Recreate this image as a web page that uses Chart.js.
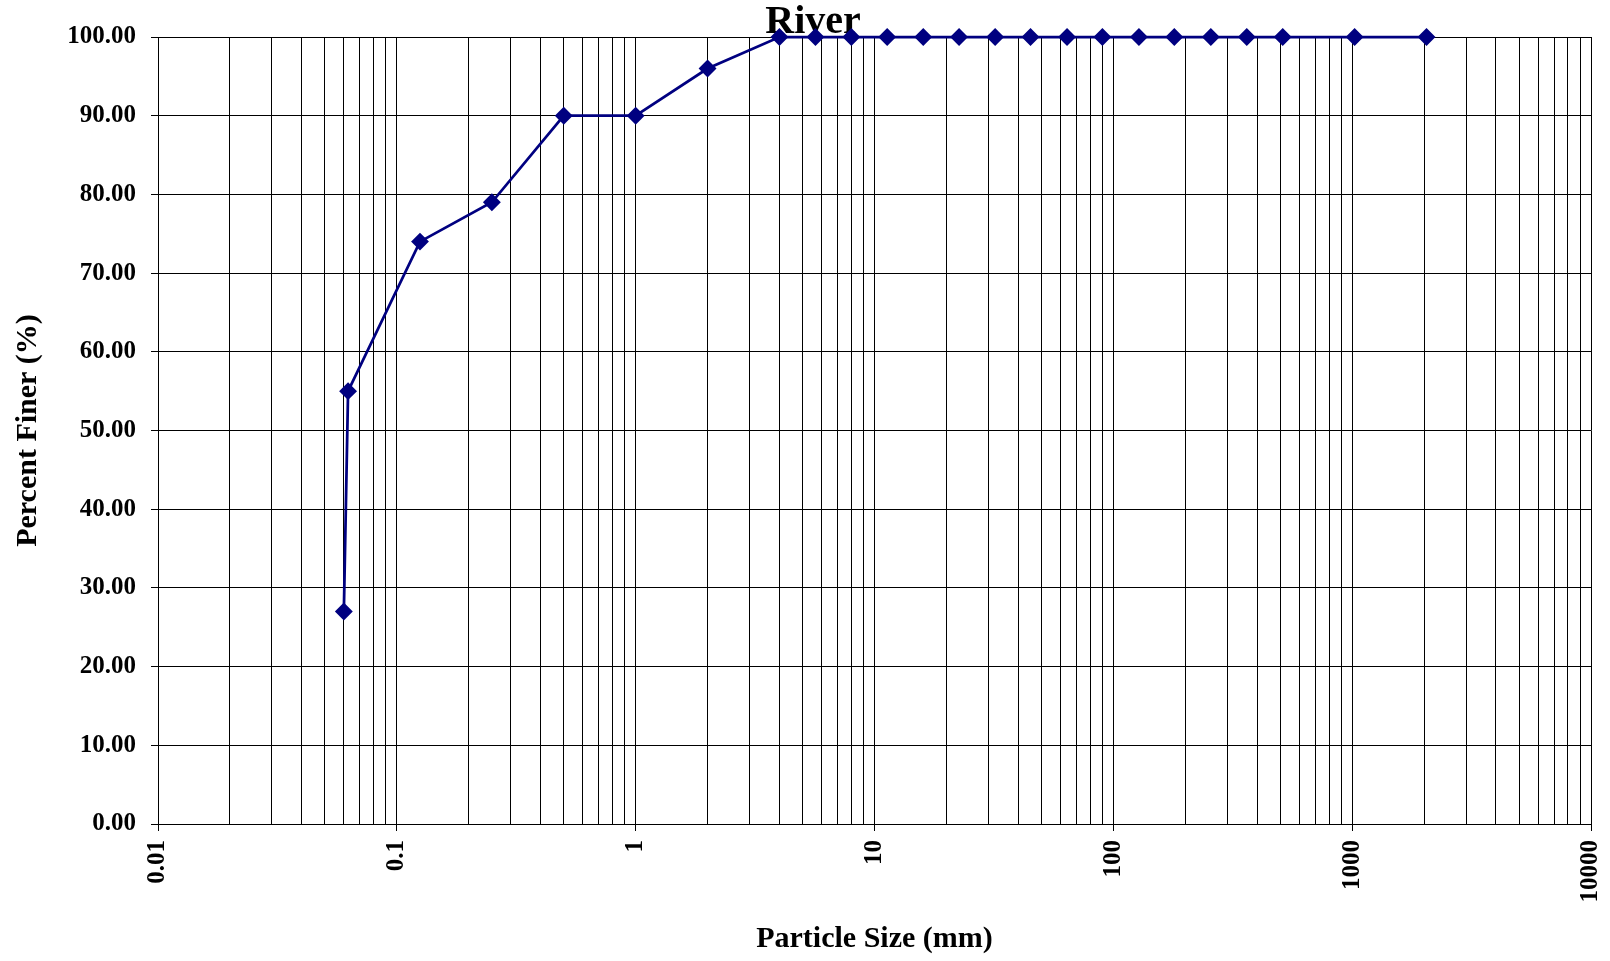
<!DOCTYPE html>
<html>
<head>
<meta charset="utf-8">
<script src="https://cdn.jsdelivr.net/npm/chart.js@4.4.1/dist/chart.umd.min.js"></script>
<style>
  html, body { margin: 0; padding: 0; background: #ffffff; }
  #wrap { width: 1610px; height: 961px; }
</style>
</head>
<body>
<div id="wrap"><canvas id="c" width="1610" height="961"></canvas></div>
<script>
// ---- data ----
const particleSizes = [0.06, 0.0625, 0.125, 0.25, 0.5, 1, 2, 4, 5.66, 8, 11.3, 16, 22.6, 32, 45, 64, 90, 128, 180, 256, 362, 512, 1024, 2048];
const percentFiner  = [27, 55, 74, 79, 90, 90, 96, 100, 100, 100, 100, 100, 100, 100, 100, 100, 100, 100, 100, 100, 100, 100, 100, 100];
const xMajorTicks = [0.01, 0.1, 1, 10, 100, 1000, 10000];
const xMinorMultipliers = [2, 3, 4, 5, 6, 7, 8, 9];
const yTickValues = [0, 10, 20, 30, 40, 50, 60, 70, 80, 90, 100];
const chartTitle = 'River';
const xAxisTitle = 'Particle Size (mm)';
const yAxisTitle = 'Percent Finer (%)';

const points = particleSizes.map((x, i) => ({ x: x, y: percentFiner[i] }));
const serif = "'Liberation Serif', 'Times New Roman', Times, serif";
const isMajor = v => xMajorTicks.some(m => Math.abs(Math.log10(v) - Math.log10(m)) < 1e-9);

new Chart(document.getElementById('c'), {
  type: 'scatter',
  data: {
    datasets: [{
      data: points,
      showLine: true,
      clip: false,
      borderColor: '#000080',
      backgroundColor: '#000080',
      borderWidth: 2.75,
      pointStyle: 'rectRot',
      pointRadius: 7,
      pointHoverRadius: 7,
      tension: 0
    }]
  },
  options: {
    responsive: false,
    animation: false,
    layout: { padding: { left: 16, right: 0, top: 0, bottom: 0 } },
    plugins: {
      legend: { display: false },
      tooltip: { enabled: false },
      title: {
        display: true,
        text: chartTitle,
        color: '#000',
        font: { family: serif, size: 40, weight: 'bold', lineHeight: 0.725 },
        padding: { top: 8, bottom: 0 }
      }
    },
    scales: {
      x: {
        type: 'logarithmic',
        min: 0.01,
        max: 10000,
        afterBuildTicks: scale => {
          const t = [];
          xMajorTicks.forEach((m, i) => {
            t.push({ value: m });
            if (i < xMajorTicks.length - 1) xMinorMultipliers.forEach(k => t.push({ value: m * k }));
          });
          scale.ticks = t;
        },
        afterFit: scale => { scale.height = 137; scale.paddingRight = 19; scale.paddingLeft = 0; },
        ticks: {
          autoSkip: false,
          maxRotation: 90,
          minRotation: 90,
          padding: 9,
          color: '#000',
          font: { family: serif, size: 25, weight: 'bold' },
          callback: v => isMajor(v) ? String(+v.toPrecision(6)) : ''
        },
        grid: {
          color: '#000',
          lineWidth: 1,
          tickLength: 7,
          tickColor: ctx => (ctx.tick && isMajor(ctx.tick.value)) ? '#000' : 'rgba(0,0,0,0)'
        },
        border: { color: '#000', width: 1 },
        title: {
          display: true,
          text: xAxisTitle,
          color: '#000',
          font: { family: serif, size: 30, weight: 'bold', lineHeight: 1.2 },
          padding: { top: 0, bottom: 4 }
        }
      },
      y: {
        type: 'linear',
        min: 0,
        max: 100,
        afterBuildTicks: scale => { scale.ticks = yTickValues.map(v => ({ value: v })); },
        afterFit: scale => { scale.width = 142; },
        ticks: {
          padding: 15,
          color: '#000',
          font: { family: serif, size: 25, weight: 'bold' },
          callback: v => Number(v).toFixed(2)
        },
        grid: { color: '#000', lineWidth: 1, tickLength: 7, tickColor: '#000' },
        border: { color: '#000', width: 1 },
        title: {
          display: true,
          text: yAxisTitle,
          color: '#000',
          font: { family: serif, size: 30, weight: 'bold', lineHeight: 0.8 },
          padding: { top: 0, bottom: 0 }
        }
      }
    }
  }
});
</script>
</body>
</html>
